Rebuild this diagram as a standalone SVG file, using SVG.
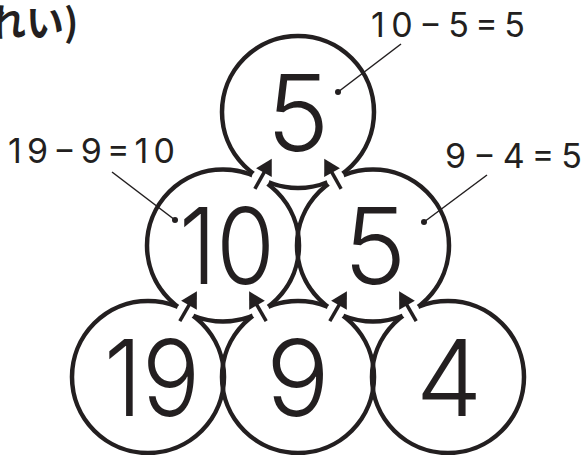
<svg xmlns="http://www.w3.org/2000/svg" width="586" height="455" viewBox="0 0 586 455">
<style>
.c{fill:none;stroke:#231f20;stroke-width:4.5}
.n{font-family:Inter,"Liberation Sans",sans-serif;font-size:106px;font-weight:300;fill:#231f20;text-anchor:middle}
.l{font-family:Inter,"Liberation Sans",sans-serif;font-size:34px;font-weight:400;fill:#231f20}
.ld{stroke:#231f20;stroke-width:1.5;fill:none}
.dot{fill:#231f20}
</style>
<defs>
<g id="arr">
<circle r="9" fill="#fff"/>
<line x1="0" y1="11.5" x2="0" y2="-10" stroke="#231f20" stroke-width="3.5"/>
<polygon points="0,-23 -9,-7 9,-7" fill="#231f20"/>
</g>
</defs>
<rect width="586" height="455" fill="#fff"/>
<text x="-12" y="36" font-family="'Noto Sans CJK JP',sans-serif" font-weight="700" font-size="38" fill="#231f20">れい)</text>
<g id="node-top"><circle class="c" cx="298" cy="112" r="76"/><text class="n" x="298" y="150.5">5</text></g>
<g id="node-mid-left"><circle class="c" cx="223" cy="245.5" r="76"/><text class="n" x="227" y="284" textLength="96" lengthAdjust="spacingAndGlyphs">10</text></g>
<g id="node-mid-right"><circle class="c" cx="373" cy="245.5" r="76"/><text class="n" x="375" y="284">5</text></g>
<g id="node-bot-left"><circle class="c" cx="148" cy="377" r="76"/><text class="n" x="152" y="415.5" textLength="96" lengthAdjust="spacingAndGlyphs">19</text></g>
<g id="node-bot-mid"><circle class="c" cx="298" cy="377" r="76"/><text class="n" x="298" y="415.5">9</text></g>
<g id="node-bot-right"><circle class="c" cx="448" cy="377" r="76"/><text class="n" x="449" y="415.5">4</text></g>
<g id="connectors">
<use href="#arr" transform="translate(185.5,311.25) rotate(29.7)"/>
<use href="#arr" transform="translate(260.5,311.25) rotate(-29.7)"/>
<use href="#arr" transform="translate(335.5,311.25) rotate(29.7)"/>
<use href="#arr" transform="translate(410.5,311.25) rotate(-29.7)"/>
<use href="#arr" transform="translate(260.5,178.75) rotate(29.3)"/>
<use href="#arr" transform="translate(335.5,178.75) rotate(-29.3)"/>
</g>
<g id="annotations">
<line class="ld" x1="401" y1="44" x2="338" y2="92"/><circle class="dot" cx="338" cy="92" r="3"/>
<text class="l" x="371" y="37" textLength="154" lengthAdjust="spacing">10−5=5</text>
<line class="ld" x1="112" y1="172" x2="175" y2="220"/><circle class="dot" cx="175" cy="220" r="3"/>
<text class="l" x="8" y="163" textLength="167" lengthAdjust="spacing">19−9=10</text>
<line class="ld" x1="487" y1="175" x2="424" y2="222"/><circle class="dot" cx="424" cy="222" r="3"/>
<text class="l" x="445" y="168" textLength="137" lengthAdjust="spacing">9−4=5</text>
</g>
</svg>
